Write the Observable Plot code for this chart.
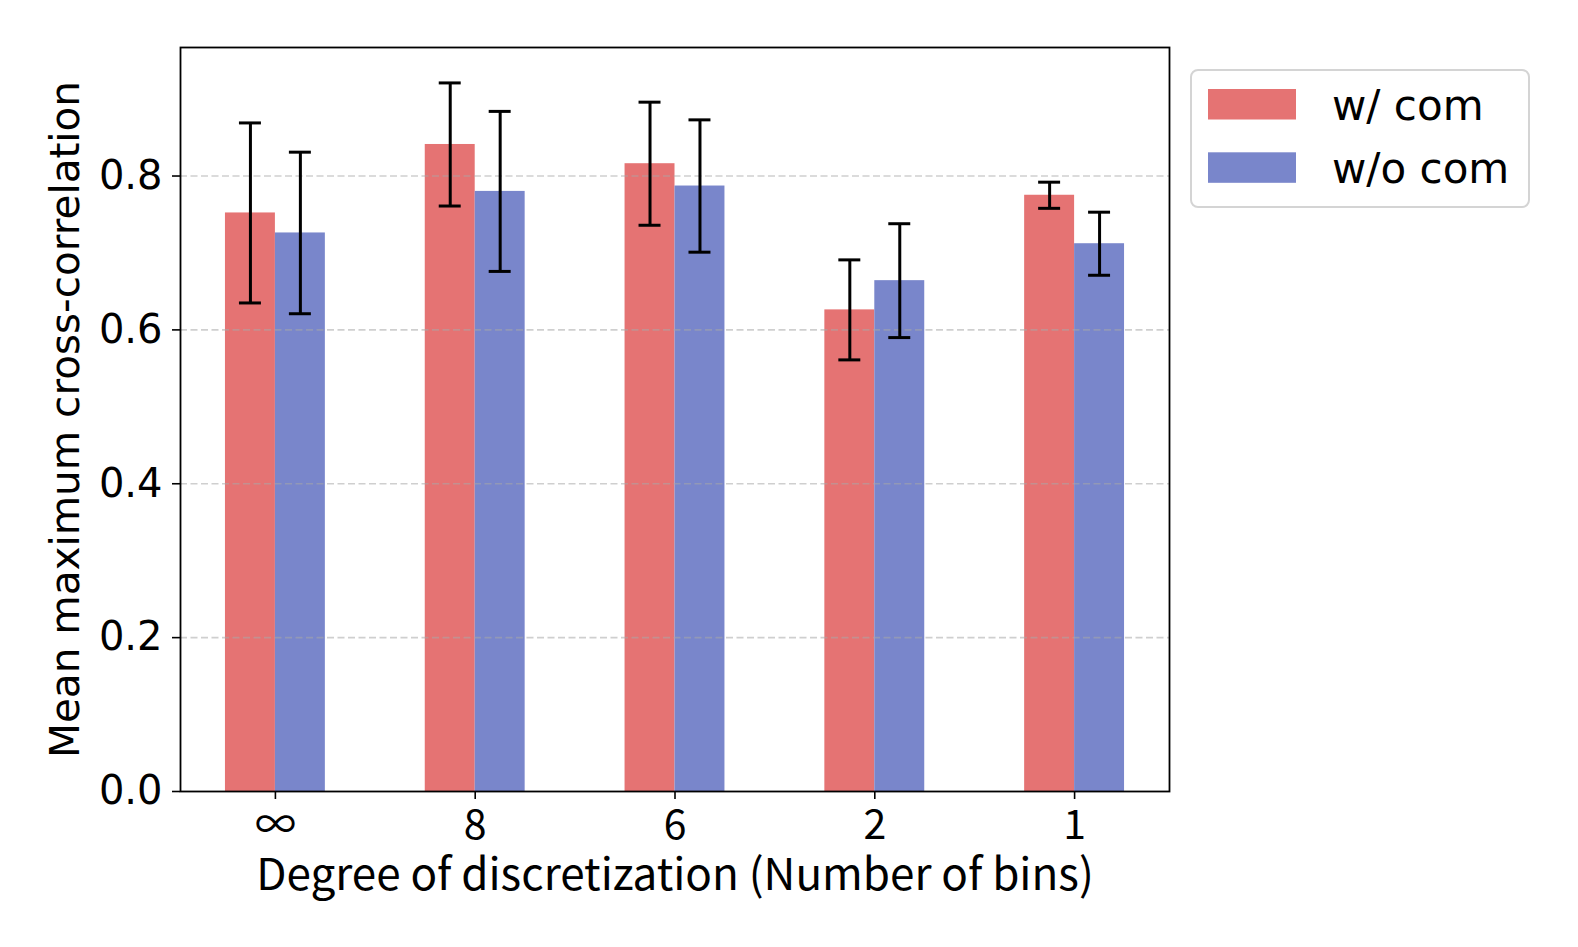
<!DOCTYPE html>
<html>
<head>
<meta charset="utf-8">
<script src="https://cdn.jsdelivr.net/npm/d3@7"></script>
<script src="https://cdn.jsdelivr.net/npm/@observablehq/plot@0.6"></script>
<style>
  body { margin: 0; background: #fff; }
  #wrap { position: relative; width: 1578px; height: 947px; }
  #legend { position: absolute; left: 0; top: 0; pointer-events: none; }
</style>
</head>
<body>
<div id="wrap"></div>
<script>
// ---- data ----
const categories = ["∞", "8", "6", "2", "1"];
const seriesNames = ["w/ com", "w/o com"];
const withCom = [0.752, 0.841, 0.816, 0.626, 0.775];
const withComErr = [0.117, 0.080, 0.080, 0.065, 0.017];
const withoutCom = [0.726, 0.780, 0.787, 0.664, 0.712];
const withoutComErr = [0.105, 0.104, 0.086, 0.074, 0.041];
const yTicks = [0, 0.2, 0.4, 0.6, 0.8];
const colors = ["#e57373", "#7986cb"];
const xLabel = "Degree of discretization (Number of bins)";
const yLabel = "Mean maximum cross-correlation";

// ---- table ----
const barW = 0.25;
const capHalf = 0.055;
const rows = [];
categories.forEach((c, i) => {
  [[withCom, withComErr], [withoutCom, withoutComErr]].forEach(([v, e], s) => {
    const x1 = i + (s === 0 ? -barW : 0);
    rows.push({cat: c, i, series: seriesNames[s], value: v[i], err: e[i],
               x1, x2: x1 + barW, xc: x1 + barW / 2});
  });
});
const yMax = d3.max(rows, d => d.value + d.err) * 1.05;

const chart = Plot.plot({
  width: 1578,
  height: 947,
  marginLeft: 180,
  marginRight: 409,
  marginTop: 47,
  marginBottom: 156,
  style: {background: "transparent", fontFamily: "DejaVu Sans", color: "black"},
  x: {domain: [-0.475, categories.length - 1 + 0.475]},
  y: {domain: [0, yMax]},
  color: {domain: seriesNames, range: colors},
  marks: [
    Plot.rectY(rows, {x1: "x1", x2: "x2", y1: 0, y2: "value", fill: "series"}),
    Plot.gridY(yTicks.filter(t => t > 0), {stroke: "#a8a8a8", strokeOpacity: 0.55, strokeWidth: 1.6, strokeDasharray: "7,3.5"}),
    Plot.ruleX(rows, {x: "xc", y1: d => d.value - d.err, y2: d => d.value + d.err, stroke: "black", strokeWidth: 3}),
    Plot.ruleY(rows, {y: d => d.value + d.err, x1: d => d.xc - capHalf, x2: d => d.xc + capHalf, stroke: "black", strokeWidth: 3}),
    Plot.ruleY(rows, {y: d => d.value - d.err, x1: d => d.xc - capHalf, x2: d => d.xc + capHalf, stroke: "black", strokeWidth: 3}),
    Plot.frame({stroke: "black", strokeWidth: 1.8}),
    Plot.axisY({ticks: yTicks, tickFormat: d3.format(".1f"), tickSize: 8, tickPadding: 10, fontSize: 40, strokeWidth: 1.6, label: null}),
    Plot.axisX({ticks: d3.range(categories.length), tickFormat: i => categories[i], tickSize: 8, tickPadding: 10,
                fontSize: 41, fontFamily: "Noto Sans CJK JP", strokeWidth: 1.6, label: null}),
    Plot.text([yLabel], {frameAnchor: "left", textAnchor: "middle", rotate: -90, dx: -102, lineAnchor: "bottom", fontSize: 40.5, fill: "black"}),
    Plot.text([xLabel], {frameAnchor: "bottom", textAnchor: "middle", dy: 98, lineAnchor: "bottom", fontSize: 44, fontFamily: "Noto Sans CJK JP", fill: "black"})
  ]
});
document.getElementById("wrap").appendChild(chart);

// ---- legend ----
const legend = d3.create("svg").attr("id", "legend").attr("width", 1578).attr("height", 947);
legend.append("rect").attr("x", 1191).attr("y", 70).attr("width", 338).attr("height", 137)
  .attr("rx", 7).attr("fill", "white").attr("stroke", "#d4d4d4").attr("stroke-width", 2);
seriesNames.forEach((name, k) => {
  const top = 89 + k * 63.3;
  legend.append("rect").attr("x", 1208).attr("y", top).attr("width", 88).attr("height", 30.5).attr("fill", colors[k]);
  legend.append("text").attr("x", 1332).attr("y", top + 30.5).attr("font-family", "DejaVu Sans")
    .attr("font-size", 42).attr("fill", "black").text(name);
});
document.getElementById("wrap").appendChild(legend.node());
</script>
</body>
</html>
